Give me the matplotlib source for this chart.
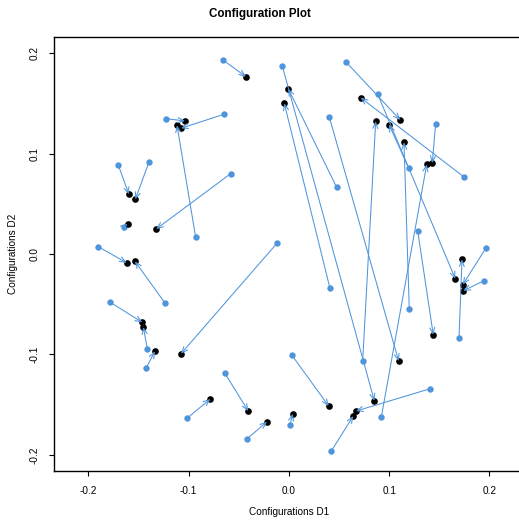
import numpy as np
import matplotlib
matplotlib.use("Agg")
import matplotlib.pyplot as plt

plt.rcParams['font.family'] = ['Liberation Sans', 'DejaVu Sans']

# starting configuration (blue) and final configuration (black)
start_x = [-0.0658, -0.1227, -0.0651, -0.0931, -0.1703, -0.1397, -0.1646, -0.0582,
           -0.1902, -0.0120, -0.1237, -0.1783, -0.1413, -0.1423, -0.0641, -0.1017,
           -0.0422, -0.0067, 0.0476, 0.0409, 0.0402, 0.0572, 0.0885, 0.1194,
           0.0735, 0.0921, 0.1200, 0.1463, 0.1746, 0.1284, 0.1965, 0.1945,
           0.1696, 0.0030, 0.1406, 0.0422, 0.0010]
start_y = [0.1932, 0.1348, 0.1391, 0.0169, 0.0886, 0.0913, 0.0272, 0.0800,
           0.0073, 0.0107, -0.0488, -0.0481, -0.0943, -0.1132, -0.1185, -0.1636,
           -0.1843, 0.1873, 0.0664, -0.0342, 0.1365, 0.1909, 0.1591, 0.0857,
           -0.1069, -0.1624, -0.0551, 0.1295, 0.0767, 0.0229, 0.0060, -0.0266,
           -0.0834, -0.1009, -0.1342, -0.1962, -0.1703]
end_x = [-0.0429, -0.1037, -0.1077, -0.1117, -0.1596, -0.1533, -0.1609, -0.1324,
         -0.1619, -0.1077, -0.1536, -0.1463, -0.1453, -0.1337, -0.0406, -0.0785,
         -0.0219, 0.0851, -0.0007, -0.0047, 0.1094, 0.1110, 0.1659, 0.0998,
         0.0865, 0.1374, 0.1147, 0.1429, 0.0715, 0.1439, 0.1733, 0.1739,
         0.1726, 0.0396, 0.0668, 0.0641, 0.0037]
end_y = [0.1766, 0.1325, 0.1252, 0.1282, 0.0595, 0.0545, 0.0299, 0.0249,
         -0.0087, -0.0993, -0.0073, -0.0680, -0.0727, -0.0969, -0.1564, -0.1444,
         -0.1670, -0.1461, 0.1646, 0.1501, -0.1066, 0.1335, -0.0246, 0.1288,
         0.1322, 0.0893, 0.1113, 0.0906, 0.1557, -0.0804, -0.0306, -0.0366,
         -0.0053, -0.1514, -0.1564, -0.1614, -0.1591]

ticks = [-0.2, -0.1, 0.0, 0.1, 0.2]
blue = "#4f95dc"

fig = plt.figure(figsize=(5.19, 5.20), dpi=100)
ax = fig.add_axes([0.104, 0.0942, 0.9056, 0.8346])

ax.plot(start_x, start_y, 'o', color=blue, ms=4.6, mec='none', zorder=2)
ax.plot(end_x, end_y, 'o', color='black', ms=4.8, mec='none', zorder=3)
for x0, y0, x1, y1 in zip(start_x, start_y, end_x, end_y):
    ax.annotate('', xy=(x1, y1), xytext=(x0, y0),
                arrowprops=dict(arrowstyle='->,head_length=0.42,head_width=0.18',
                                color=blue, lw=0.75, shrinkA=0, shrinkB=0),
                zorder=4)

ax.set_xlim(-0.2344, 0.2344)
ax.set_ylim(-0.2161, 0.2161)
ax.set_xticks(ticks)
ax.set_yticks(ticks)
ax.set_xticklabels(['%.1f' % t for t in ticks])
ax.set_yticklabels(['%.1f' % t for t in ticks], rotation=90, va='center')
ax.tick_params(length=3.6, width=0.8, labelsize=7.2, pad=7)
for s in ax.spines.values():
    s.set_linewidth(1.0)

ax.set_xlabel('Configurations D1', fontsize=7.2, labelpad=8)
ax.set_ylabel('Configurations D2', fontsize=7.2, labelpad=8)
fig.text(0.5, 1 - 14 / 520, 'Configuration Plot', ha='center', va='center',
         fontsize=8.4, fontweight='bold')

fig.savefig('out.png', dpi=100)
